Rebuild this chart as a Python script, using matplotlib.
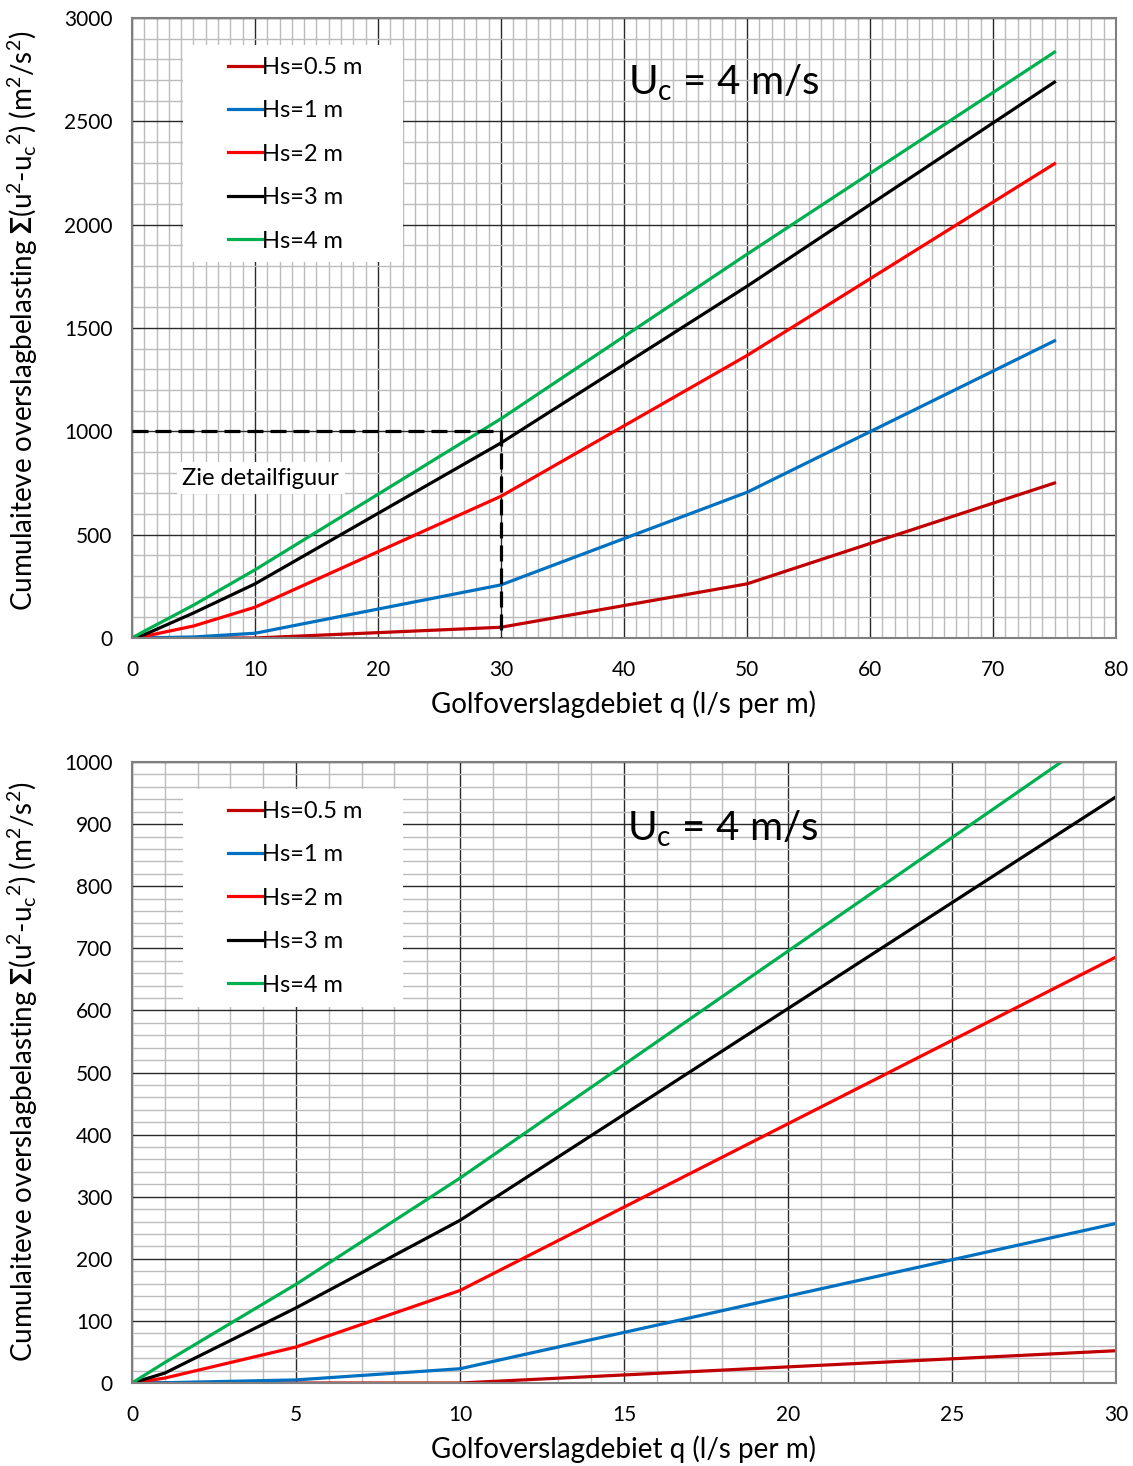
import matplotlib
matplotlib.use('Agg')
import matplotlib.pyplot as plt
from matplotlib.patches import Rectangle
from matplotlib.ticker import MultipleLocator

# ── Data ──────────────────────────────────────────────────────────────────────
q = [0, 1, 5, 10, 30, 50, 75]   # golfoverslagdebiet (l/s per m)

hs_labels = ['Hs=0.5 m', 'Hs=1 m', 'Hs=2 m', 'Hs=3 m', 'Hs=4 m']
hs05 = [0, 0, 0, 0, 52, 262, 750]
hs1  = [0, 0.5, 5, 23, 257, 705, 1438]
hs2  = [0, 8, 58, 149, 686, 1367, 2295]
hs3  = [0, 16, 121, 262, 944, 1702, 2690]
hs4  = [0, 33, 159, 330, 1061, 1857, 2835]
series = [hs05, hs1, hs2, hs3, hs4]
colors = ['#C00000', '#0070C0', '#FF0000', '#000000', '#00B050']

guide_x = [0, 30, 30]
guide_y = [1000, 1000, 0]

# ── Style ─────────────────────────────────────────────────────────────────────
plt.rcParams['font.family'] = ['Lato', 'DejaVu Sans']
plt.rcParams['mathtext.fontset'] = 'custom'
plt.rcParams['mathtext.rm'] = 'Lato'
plt.rcParams['mathtext.it'] = 'Lato'
plt.rcParams['mathtext.bf'] = 'Lato:bold'

ylabel = (r'Cumulaiteve overslagbelasting $\mathbf{\Sigma}$(u$^2$-u$_c$$^2$) '
          r'(m$^2$/s$^2$)')
xlabel = 'Golfoverslagdebiet q (l/s per m)'

fig = plt.figure(figsize=(11.33, 14.66), dpi=100)
ax_top = fig.add_axes([0.1165, 0.5648, 0.8685, 0.4229])
ax_bot = fig.add_axes([0.1165, 0.0566, 0.8685, 0.4236])


def style_axes(ax, xmax, ymax, xmaj, xmin, ymaj, ymin, ylab_y):
    ax.set_xlim(0, xmax)
    ax.set_ylim(0, ymax)
    ax.xaxis.set_major_locator(MultipleLocator(xmaj))
    ax.xaxis.set_minor_locator(MultipleLocator(xmin))
    ax.yaxis.set_major_locator(MultipleLocator(ymaj))
    ax.yaxis.set_minor_locator(MultipleLocator(ymin))
    ax.grid(which='minor', color='#bcbcbc', lw=1.0)
    ax.grid(which='major', color='#2a2a2a', lw=1.0)
    ax.set_axisbelow(True)
    ax.tick_params(which='both', length=0, labelsize=15, pad=16)
    ax.tick_params(axis='y', pad=14)
    for sp in ax.spines.values():
        sp.set_color('#808080')
        sp.set_linewidth(1.5)
    ax.set_xlabel(xlabel, fontsize=20, labelpad=7)
    ax.set_ylabel(ylabel, fontsize=20)
    ax.yaxis.set_label_coords(-0.093, ylab_y)

    # white background box behind the legend
    ax.add_patch(Rectangle((0.0518, 0.606), 0.2236, 0.35, transform=ax.transAxes,
                           facecolor='white', edgecolor='none', zorder=1))
    for ys, c, lab in zip(series, colors, hs_labels):
        ax.plot(q, ys, color=c, lw=2.3, label=lab, solid_joinstyle='round',
                zorder=2)
    ax.legend(loc='upper left', bbox_to_anchor=(0.0976, 0.9375),
              fontsize=17, frameon=False, handlelength=1.45,
              handletextpad=0.0, labelspacing=0.95, borderpad=0,
              borderaxespad=0)


style_axes(ax_top, 80, 3000, 10, 1, 500, 100, 0.511)
style_axes(ax_bot, 30, 1000, 5, 1, 100, 20, 0.501)

# ── Annotations ───────────────────────────────────────────────────────────────
ax_top.plot(guide_x, guide_y, color='black', lw=2.3, ls=(0, (5, 2.2)), zorder=3)
ax_top.text(4.1, 774, 'Zie detailfiguur', fontsize=17, va='center', ha='left',
            bbox=dict(facecolor='white', edgecolor='none', pad=4))

ax_top.text(40.3, 2627, r'U$_\mathregular{c}$ = 4 m/s', fontsize=29,
            ha='left', va='baseline')
ax_bot.text(15.1, 874, r'U$_\mathregular{c}$ = 4 m/s', fontsize=29,
            ha='left', va='baseline')

plt.savefig('out.png', dpi=100, facecolor='white')
